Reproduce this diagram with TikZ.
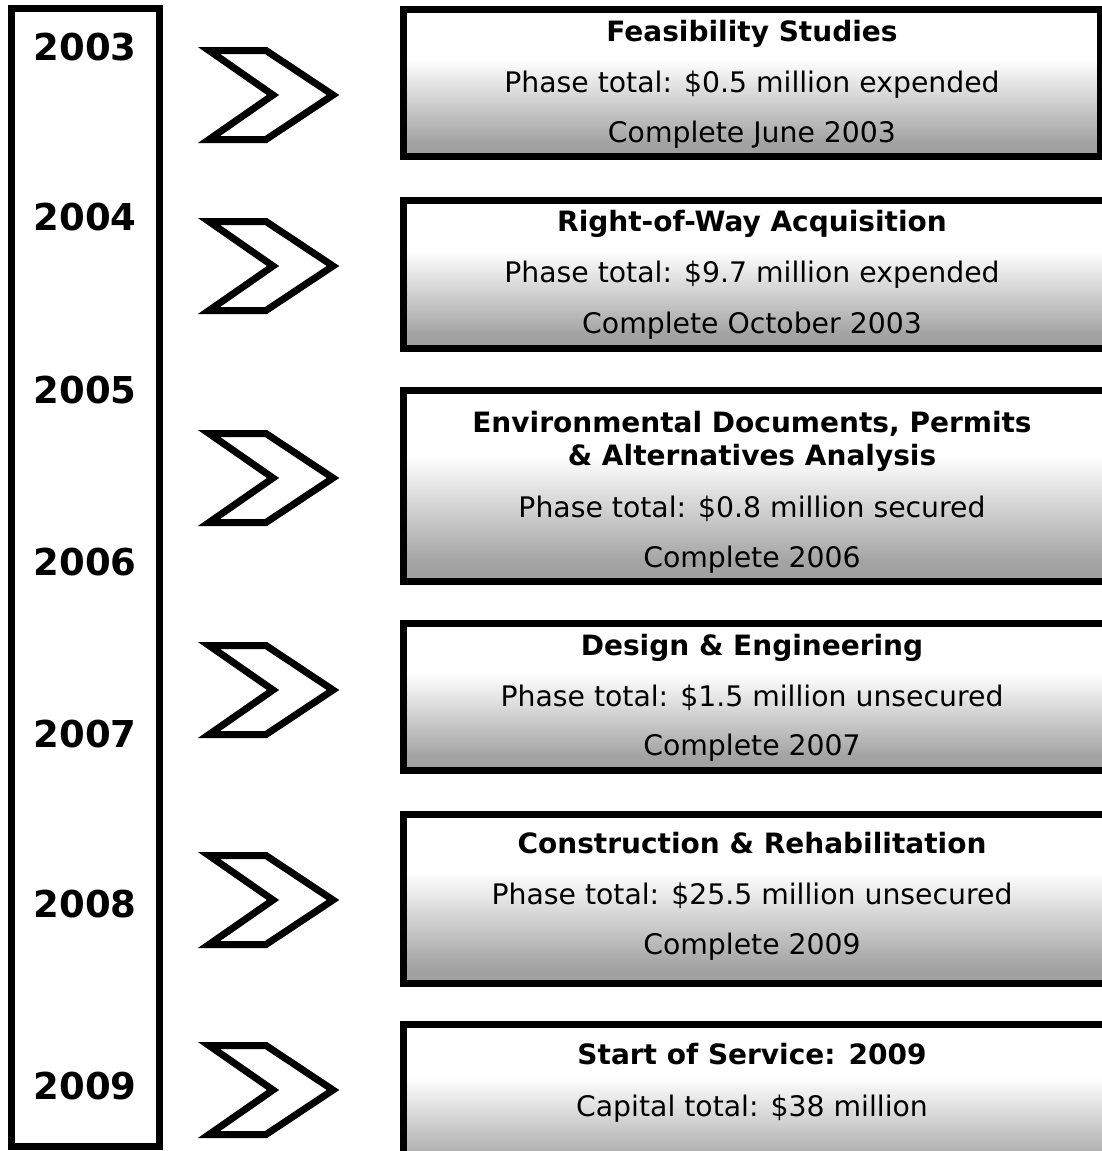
\documentclass[tikz,border=0pt]{standalone}
\usepackage{fontspec}
\setmainfont{DejaVu Sans}
\usetikzlibrary{positioning}

% white at the top of each phase box, grey towards the bottom
\pgfdeclareverticalshading{phasefill}{100bp}{color(0bp)=(black!46); color(30bp)=(black!36); color(58bp)=(white); color(100bp)=(white)}

\tikzset{
  frame/.style={draw, line width=7pt, rectangle, inner sep=0pt},
  phase/.style={frame, shade, shading=phasefill, minimum width=704pt},
  yr/.style={anchor=base, inner sep=0pt, font=\fontsize{37}{37}\selectfont\bfseries},
  head/.style={anchor=base, inner sep=0pt, font=\fontsize{28}{28}\selectfont\bfseries},
  body/.style={anchor=base, inner sep=0pt, font=\fontsize{28.3}{28.3}\selectfont},
  chev/.pic={
    \draw[line width=7pt] (209,-44.5) -- (266,-44.5) -- (333,0) -- (266,44.5) -- (209,44.5) -- (273,0) -- cycle;
  }
}

\begin{document}
\begin{tikzpicture}[x=1pt, y=-1pt]
\useasboundingbox (0,0) rectangle (1101,1151);

% year column
\node[frame, fill=white, minimum width=148pt, minimum height=1138pt] (track) at (85.5,577.5) {};
\node[yr] (y2003) at (85,60) {2003};
\node[yr] (y2004) at (85,230) {2004};
\node[yr] (y2005) at (85,403) {2005};
\node[yr] (y2006) at (85,575) {2006};
\node[yr] (y2007) at (85,747) {2007};
\node[yr] (y2008) at (85,917) {2008};
\node[yr] (y2009) at (85,1099) {2009};

% chevrons
\foreach \c in {95,266,478,690,900,1090}
  \pic at (0,\c) {chev};

% phase boxes, only the first one shows its right edge
\node[phase, minimum width=697pt, minimum height=147pt] (feas) at (752,83) {};
\node[phase, minimum height=148pt] (row) at (755.5,274.5) {};
\node[phase, minimum height=191pt] (env) at (755.5,486) {};
\node[phase, minimum height=147pt] (design) at (755.5,697) {};
\node[phase, minimum height=169pt] (constr) at (755.5,899) {};
\node[phase, minimum height=156pt] (service) at (755.5,1102) {};

\node[head] (feas-h) at (752,41) {Feasibility Studies};
\node[body] (feas-a) at (752,92) {Phase total: \$0.5 million expended};
\node[body] (feas-b) at (752,142) {Complete June 2003};

\node[head] (row-h) at (752,231) {Right-of-Way Acquisition};
\node[body] (row-a) at (752,282) {Phase total: \$9.7 million expended};
\node[body] (row-b) at (752,333) {Complete October 2003};

\node[head] (env-h) at (752,432) {Environmental Documents, Permits};
\node[head] (env-i) at (752,465) {\& Alternatives Analysis};
\node[body] (env-a) at (752,517) {Phase total: \$0.8 million secured};
\node[body] (env-b) at (752,567) {Complete 2006};

\node[head] (design-h) at (752,655) {Design \& Engineering};
\node[body] (design-a) at (752,706) {Phase total: \$1.5 million unsecured};
\node[body] (design-b) at (752,755) {Complete 2007};

\node[head] (constr-h) at (752,853) {Construction \& Rehabilitation};
\node[body] (constr-a) at (752,904) {Phase total: \$25.5 million unsecured};
\node[body] (constr-b) at (752,954) {Complete 2009};

\node[head] (service-h) at (752,1064) {Start of Service: 2009};
\node[body] (service-a) at (752,1116) {Capital total: \$38 million};
\end{tikzpicture}
\end{document}
